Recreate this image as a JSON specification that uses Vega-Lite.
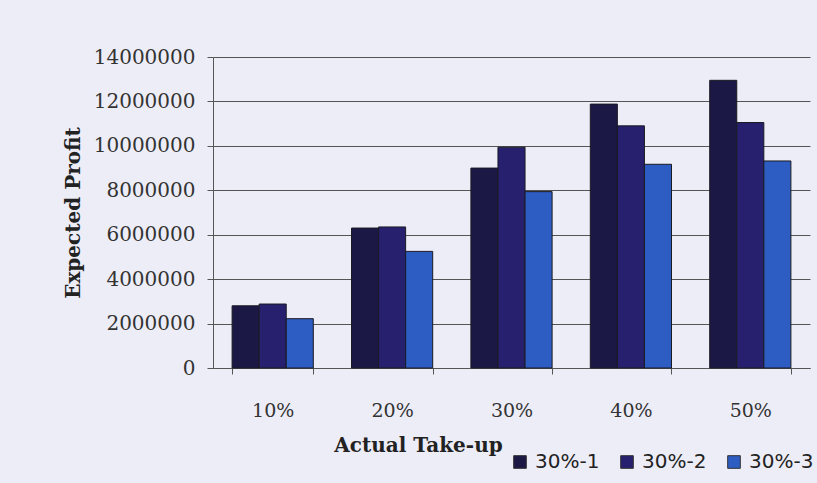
{
  "$schema": "https://vega.github.io/schema/vega-lite/v6.json",
  "autosize": "none",
  "width": 597,
  "height": 311,
  "padding": {"left": 213, "top": 57, "right": 7, "bottom": 115},
  "background": "#ededf7",
  "data": {"values": [
    {"takeup": "10%", "series": "30%-1", "profit": 2800000},
    {"takeup": "10%", "series": "30%-2", "profit": 2880000},
    {"takeup": "10%", "series": "30%-3", "profit": 2220000},
    {"takeup": "20%", "series": "30%-1", "profit": 6300000},
    {"takeup": "20%", "series": "30%-2", "profit": 6350000},
    {"takeup": "20%", "series": "30%-3", "profit": 5250000},
    {"takeup": "30%", "series": "30%-1", "profit": 9000000},
    {"takeup": "30%", "series": "30%-2", "profit": 9940000},
    {"takeup": "30%", "series": "30%-3", "profit": 7940000},
    {"takeup": "40%", "series": "30%-1", "profit": 11880000},
    {"takeup": "40%", "series": "30%-2", "profit": 10900000},
    {"takeup": "40%", "series": "30%-3", "profit": 9170000},
    {"takeup": "50%", "series": "30%-1", "profit": 12950000},
    {"takeup": "50%", "series": "30%-2", "profit": 11050000},
    {"takeup": "50%", "series": "30%-3", "profit": 9320000}
  ]},
  "mark": {"type": "bar", "stroke": "#1a1a22", "strokeWidth": 1},
  "encoding": {
    "x": {
      "field": "takeup", "type": "nominal",
      "scale": {"paddingInner": 0.32, "paddingOuter": 0.16},
      "axis": {
        "title": "Actual Take-up", "labelAngle": 0,
        "labelFont": "DejaVu Serif", "labelFontSize": 19, "labelColor": "#333333", "labelPadding": 27,
        "titleFont": "DejaVu Serif", "titleFontSize": 20, "titleFontWeight": "bold", "titleColor": "#222222",
        "titlePadding": 15, "titleX": 205, "titleAnchor": "middle",
        "tickBand": "extent", "tickSize": 6, "tickColor": "#555555", "domainColor": "#555555"
      }
    },
    "xOffset": {"field": "series", "type": "nominal", "scale": {"paddingInner": 0}},
    "y": {
      "field": "profit", "type": "quantitative",
      "scale": {"domain": [0, 14000000]},
      "axis": {
        "title": "Expected Profit", "values": [0, 2000000, 4000000, 6000000, 8000000, 10000000, 12000000, 14000000],
        "format": "d", "labelFont": "DejaVu Serif", "labelFontSize": 20, "labelColor": "#333333", "labelPadding": 12,
        "titleFont": "DejaVu Serif", "titleFontSize": 20, "titleFontWeight": "bold", "titleColor": "#222222",
        "titlePadding": 10,
        "grid": true, "gridColor": "#555555", "gridWidth": 1,
        "tickSize": 6, "tickColor": "#555555", "domainColor": "#555555"
      }
    },
    "color": {
      "field": "series", "type": "nominal",
      "scale": {"domain": ["30%-1", "30%-2", "30%-3"], "range": ["#1c1845", "#26206e", "#2d5cc2"]},
      "legend": {
        "title": null, "orient": "none", "direction": "horizontal",
        "legendX": 297, "legendY": 395,
        "symbolType": "square", "symbolSize": 160, "symbolStrokeColor": "#333333", "symbolStrokeWidth": 1,
        "labelFont": "DejaVu Sans", "labelFontSize": 20, "labelColor": "#222222", "columnPadding": 17, "labelOffset": 5
      }
    }
  },
  "config": {"view": {"stroke": null}}
}
